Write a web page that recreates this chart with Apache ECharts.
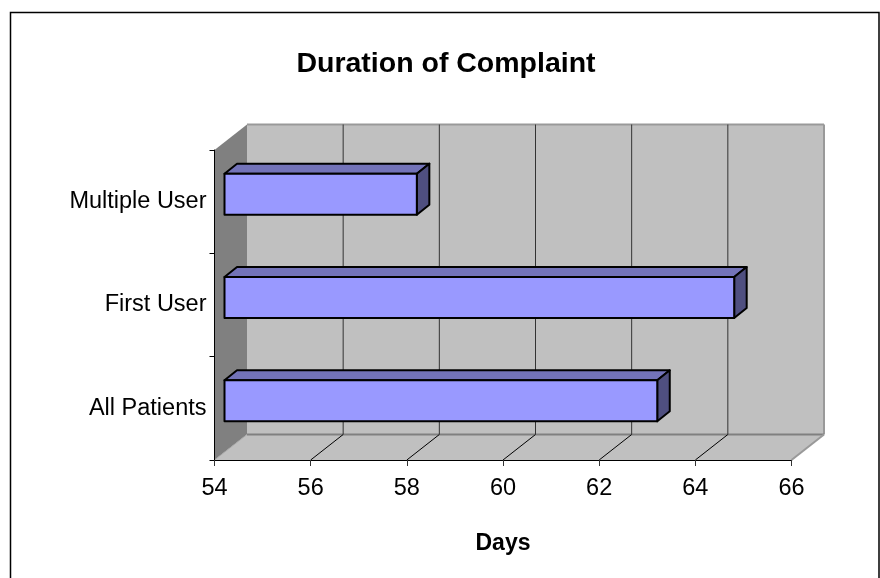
<!DOCTYPE html>
<html>
<head>
<meta charset="utf-8">
<style>
  html, body { margin: 0; padding: 0; background: #fff; }
  #chart { width: 880px; height: 578px; }
</style>
<script src="https://cdn.jsdelivr.net/npm/echarts@6/dist/echarts.min.js"></script>
</head>
<body>
<div id="chart"></div>
<script>
const categories = ["All Patients", "First User", "Multiple User"];
const days = [63, 64.6, 58];
const dayTicks = [54, 56, 58, 60, 62, 64, 66];

const font = "'Liberation Sans', Arial, sans-serif";
// fake 3d offsets, in pixels
const wallDx = 32.5;
const wallDy = -25.5;
const barGap = 10;
const barDx = 12.5;
const barDy = -10;
const barHeight = 41;
const barLift = -7.5;

const myChart = echarts.init(document.getElementById("chart"));

function poly(points, fill, stroke, lineWidth) {
  return {
    type: "polygon",
    shape: { points: points },
    style: { fill: fill, stroke: stroke || null, lineWidth: lineWidth || 0, lineJoin: "round" },
  };
}

function line(a, b, color, lineWidth) {
  return {
    type: "line",
    shape: { x1: a[0], y1: a[1], x2: b[0], y2: b[1] },
    style: { stroke: color, lineWidth: lineWidth },
  };
}

function renderWalls(params, api) {
  const s = params.coordSys;
  const l = s.x, r = s.x + s.width, t = s.y, b = s.y + s.height;
  const children = [
    poly([[l + wallDx, t + wallDy], [r + wallDx, t + wallDy], [r + wallDx, b + wallDy], [l + wallDx, b + wallDy]], "#c0c0c0"),
    poly([[l, t], [l + wallDx, t + wallDy], [l + wallDx, b + wallDy], [l, b]], "#808080"),
    poly([[l, b], [l + wallDx, b + wallDy], [r + wallDx, b + wallDy], [r, b]], "#c0c0c0"),
    line([l + wallDx, t + wallDy], [r + wallDx, t + wallDy], "#999999", 2),
    line([r + wallDx, t + wallDy], [r + wallDx, b + wallDy], "#999999", 2),
    line([l + wallDx, b + wallDy], [r + wallDx, b + wallDy], "#808080", 2),
    line([r, b], [r + wallDx, b + wallDy], "#999999", 2),
    line([l, b], [l + wallDx, b + wallDy], "#a6a6a6", 1),
  ];
  dayTicks.slice(1, -1).forEach((d) => {
    const x = api.coord([d, 0])[0];
    children.push(line([x, b], [x + wallDx, b + wallDy], "#000000", 1));
    children.push(line([x + wallDx, t + wallDy], [x + wallDx, b + wallDy], "#333333", 1));
  });
  return { type: "group", children: children };
}

function renderBar(params, api) {
  const idx = api.value(0);
  const start = api.coord([dayTicks[0], idx]);
  const end = api.coord([api.value(1), idx]);
  const x0 = start[0] + barGap;
  const x1 = end[0] + barGap;
  const y0 = start[1] + barLift - barHeight / 2;
  const y1 = y0 + barHeight;
  return {
    type: "group",
    children: [
      poly([[x0, y0], [x0 + barDx, y0 + barDy], [x1 + barDx, y0 + barDy], [x1, y0]], "#7373b9", "#000", 2),
      poly([[x1, y0], [x1 + barDx, y0 + barDy], [x1 + barDx, y1 + barDy], [x1, y1]], "#4f4f80", "#000", 2),
      poly([[x0, y0], [x1, y0], [x1, y1], [x0, y1]], "#9999ff", "#000", 2),
    ],
  };
}

const option = {
  backgroundColor: "#fff",
  animation: false,
  title: {
    text: "Duration of Complaint",
    left: 441,
    top: 45,
    textAlign: "center",
    textStyle: { fontFamily: font, fontSize: 28.5, fontWeight: "bold", color: "#000" },
  },
  graphic: [
    {
      type: "polyline",
      shape: { points: [[10.5, 578], [10.5, 12.5], [879, 12.5], [879, 578]] },
      style: { fill: null, stroke: "#000", lineWidth: 1.5 },
      z: 0,
    },
  ],
  grid: { left: 214.5, right: 88.5, top: 150, bottom: 118, containLabel: false },
  xAxis: {
    type: "value",
    min: 54,
    max: 66,
    interval: 2,
    name: "Days",
    nameLocation: "middle",
    nameGap: 72,
    nameTextStyle: { fontFamily: font, fontSize: 23, fontWeight: "bold", color: "#000" },
    axisLine: { show: true, lineStyle: { color: "#000", width: 1 } },
    axisTick: { show: true, length: 6, lineStyle: { color: "#333", width: 1 } },
    axisLabel: { fontFamily: font, fontSize: 23.5, color: "#000", margin: 17 },
    splitLine: { show: false },
    z: 5,
  },
  yAxis: {
    type: "category",
    data: categories,
    axisLine: { show: true, onZero: false, lineStyle: { color: "#000", width: 1 } },
    axisTick: { show: true, length: 5, alignWithLabel: false, lineStyle: { color: "#000", width: 1 } },
    axisLabel: { fontFamily: font, fontSize: 23.5, color: "#000", margin: 8 },
    z: 5,
  },
  series: [
    {
      type: "custom",
      name: "walls",
      coordinateSystem: "cartesian2d",
      renderItem: renderWalls,
      data: [[54, 0]],
      encode: { x: 0, y: 1 },
      silent: true,
      clip: false,
      z: 1,
    },
    {
      type: "custom",
      name: "Days",
      coordinateSystem: "cartesian2d",
      renderItem: renderBar,
      data: days.map((d, i) => [i, d]),
      encode: { x: 1, y: 0 },
      clip: false,
      z: 10,
    },
  ],
};

myChart.setOption(option);
</script>
</body>
</html>
